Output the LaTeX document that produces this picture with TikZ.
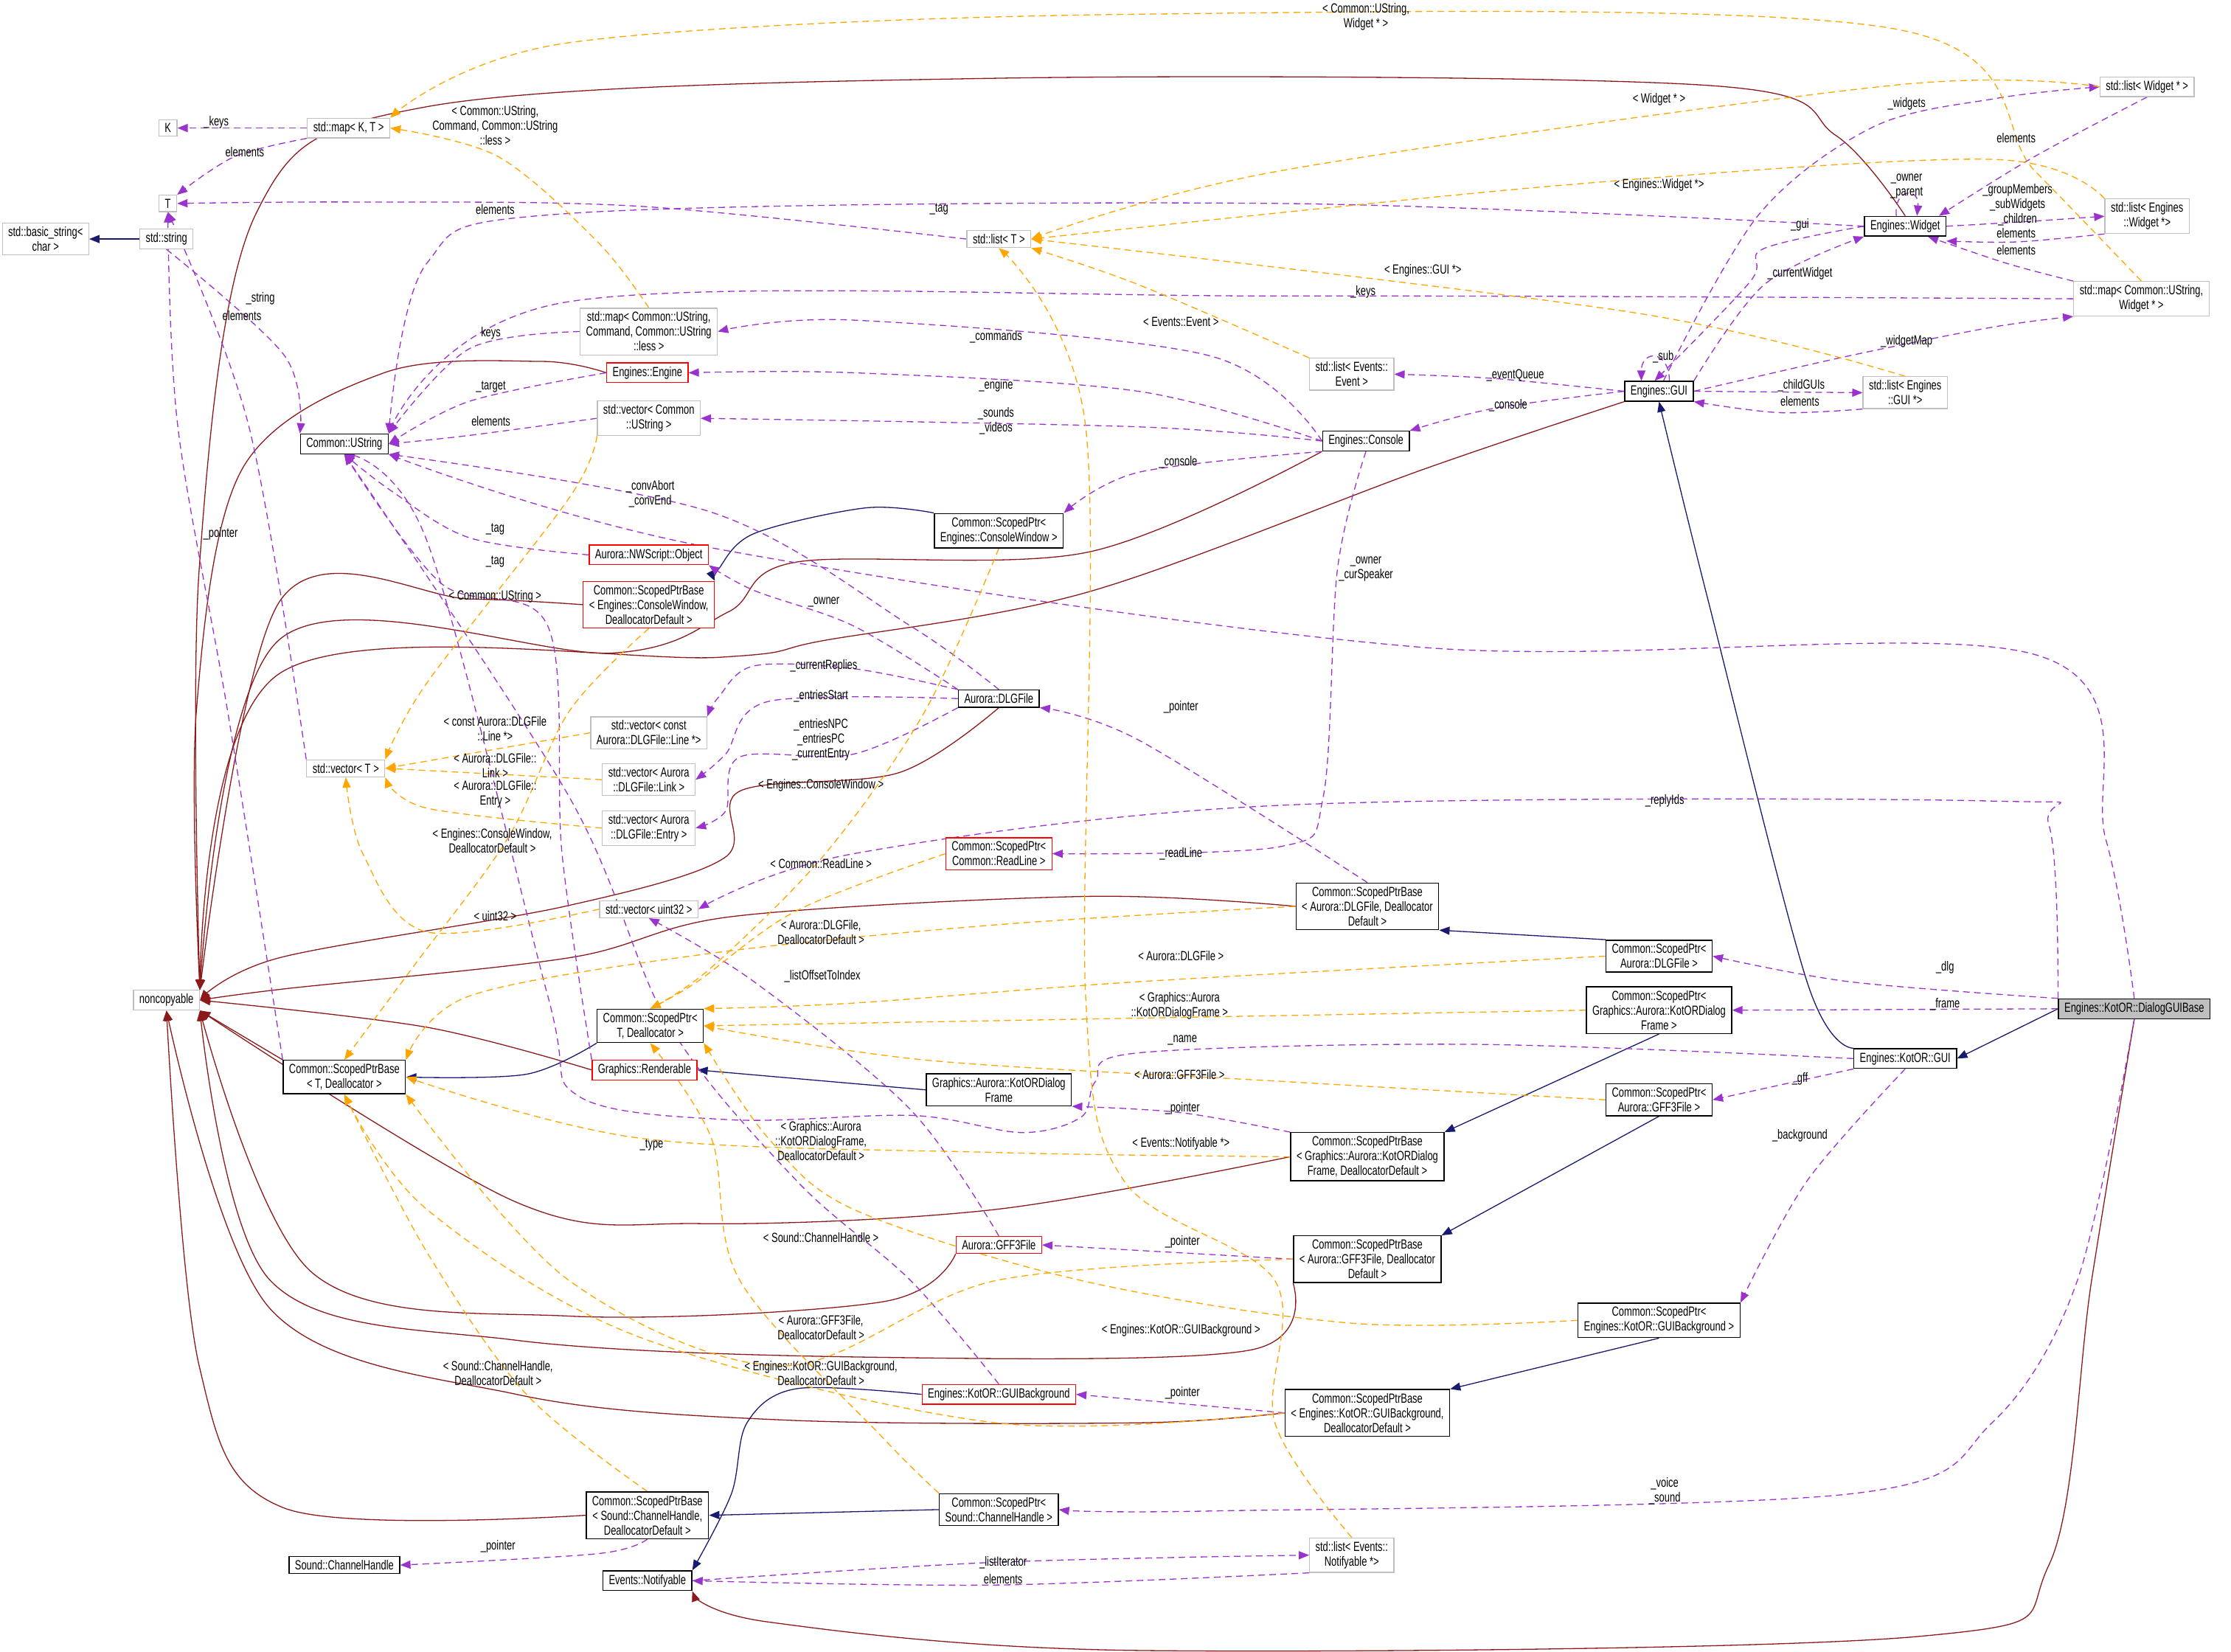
\documentclass[tikz,border=0pt]{standalone}
\usepackage{fontspec}
\setmainfont{Liberation Sans}[FakeStretch=0.72]
\usetikzlibrary{arrows.meta,backgrounds}
\definecolor{inhR}{HTML}{8B1A1A}
\definecolor{inhB}{HTML}{191970}
\definecolor{useP}{HTML}{9A32CD}
\definecolor{tmpO}{HTML}{FFA500}
\definecolor{grayb}{HTML}{BFBFBF}
\newcommand\cc[2]{\draw[#1] plot[smooth,tension=0.55] coordinates {#2};}
\tikzset{
  box/.style={draw=black,line width=1.4pt,align=center,inner xsep=8pt,inner ysep=5pt,font=\fontsize{18}{20}\selectfont,fill=white},
  gbox/.style={box,draw=grayb,line width=1.2pt},
  rbox/.style={box,draw=red,line width=1.2pt},
  lbl/.style={align=center,inner sep=0pt,font=\fontsize{18}{20}\selectfont},
  inhr/.style={draw=inhR,line width=1.3pt,-{Triangle[length=14pt,width=11pt]}},
  inhb/.style={draw=inhB,line width=1.3pt,-{Triangle[length=14pt,width=11pt]}},
  use/.style={draw=useP,line width=1.3pt,dash pattern=on 9pt off 6pt,-{Triangle[length=14pt,width=11pt]}},
  tmpl/.style={draw=tmpO,line width=1.3pt,dash pattern=on 9pt off 6pt,-{Triangle[length=14pt,width=11pt]}},
}
\begin{document}
\begin{tikzpicture}[x=1.9292pt,y=-1.9292pt]
\useasboundingbox (0,0) rectangle (1568,1161);
% nodes
\node[gbox] (K) at (118,90) {K};
\node[gbox] (mapKT) at (245,90) {std::map< K, T >};
\node[gbox] (T) at (118,143) {T};
\node[gbox] (basicstr) at (32,168) {std::basic\_string<\\char >};
\node[gbox] (stdstr) at (117,168) {std::string};
\node[box] (ustr) at (242,312) {Common::UString};
\node[gbox] (mapCmd) at (456,233) {std::map< Common::UString,\\Command, Common::UString\\::less >};
\node[rbox] (engine) at (455,262) {Engines::Engine};
\node[gbox] (vecU) at (456,294) {std::vector< Common\\::UString >};
\node[rbox] (nwobj) at (456,390) {Aurora::NWScript::Object};
\node[rbox] (spbCW) at (456,425) {Common::ScopedPtrBase\\< Engines::ConsoleWindow,\\DeallocatorDefault >};
\node[gbox] (vecLine) at (456,515) {std::vector< const\\Aurora::DLGFile::Line *>};
\node[gbox] (vecLink) at (456,548) {std::vector< Aurora\\::DLGFile::Link >};
\node[gbox] (vecEntry) at (456,582) {std::vector< Aurora\\::DLGFile::Entry >};
\node[gbox] (vecT) at (243,540) {std::vector< T >};
\node[gbox] (vecU32) at (456,639) {std::vector< uint32 >};
\node[gbox] (noncop) at (117,703) {noncopyable};
\node[box] (spTD) at (457,721) {Common::ScopedPtr<\\T, Deallocator >};
\node[box] (spbTD) at (242,757) {Common::ScopedPtrBase\\< T, Deallocator >};
\node[rbox] (rend) at (453,752) {Graphics::Renderable};
\node[box] (spCW) at (702,373) {Common::ScopedPtr<\\Engines::ConsoleWindow >};
\node[box] (dlg) at (702,491) {Aurora::DLGFile};
\node[rbox] (spRL) at (702,600) {Common::ScopedPtr<\\Common::ReadLine >};
\node[box] (kdf) at (702,766) {Graphics::Aurora::KotORDialog\\Frame};
\node[rbox] (gff) at (702,875) {Aurora::GFF3File};
\node[rbox] (guibg) at (702,980) {Engines::KotOR::GUIBackground};
\node[box] (spCH) at (702,1061) {Common::ScopedPtr<\\Sound::ChannelHandle >};
\node[box] (spbCH) at (455,1065) {Common::ScopedPtrBase\\< Sound::ChannelHandle,\\DeallocatorDefault >};
\node[box] (sch) at (242,1100) {Sound::ChannelHandle};
\node[box] (notif) at (455,1111) {Events::Notifyable};
\node[gbox] (listNotif) at (950,1093) {std::list< Events::\\Notifyable *>};
\node[gbox] (listT) at (702,168) {std::list< T >};
\node[gbox] (listEvt) at (950,263) {std::list< Events::\\Event >};
\node[box] (console) at (960,310) {Engines::Console};
\node[box] (gui) at (1166,275) {Engines::GUI};
\node[gbox] (listGUI) at (1339,276) {std::list< Engines\\::GUI *>};
\node[box] (widget) at (1339,159) {Engines::Widget};
\node[gbox] (listW) at (1509,61) {std::list< Widget * >};
\node[gbox] (listEW) at (1509,152) {std::list< Engines\\::Widget *>};
\node[gbox] (mapW) at (1505,210) {std::map< Common::UString,\\Widget * >};
\node[box] (spbDLG) at (961,637) {Common::ScopedPtrBase\\< Aurora::DLGFile, Deallocator\\Default >};
\node[box] (spDLG) at (1166,672) {Common::ScopedPtr<\\Aurora::DLGFile >};
\node[box] (spKDF) at (1166,710) {Common::ScopedPtr<\\Graphics::Aurora::KotORDialog\\Frame >};
\node[box,fill=grayb] (dgb) at (1500,709) {Engines::KotOR::DialogGUIBase};
\node[box] (kgui) at (1339,744) {Engines::KotOR::GUI};
\node[box] (spGFF) at (1166,773) {Common::ScopedPtr<\\Aurora::GFF3File >};
\node[box] (spbKDF) at (961,813) {Common::ScopedPtrBase\\< Graphics::Aurora::KotORDialog\\Frame, DeallocatorDefault >};
\node[box] (spbGFF) at (961,885) {Common::ScopedPtrBase\\< Aurora::GFF3File, Deallocator\\Default >};
\node[box] (spBG) at (1166,928) {Common::ScopedPtr<\\Engines::KotOR::GUIBackground >};
\node[box] (spbBG) at (961,993) {Common::ScopedPtrBase\\< Engines::KotOR::GUIBackground,\\DeallocatorDefault >};

\begin{scope}[on background layer]
\fill[white] (0,0) rectangle (1568,1161);
% ---- red inheritance to noncopyable
\cc{inhr}{(widget.north) (1290,95) (1200,60) (700,55) (300,75) (180,150) (140,400) (noncop.north east)}
\cc{inhr}{(engine.west) (380,254) (270,262) (170,330) (138,500) (noncop.north east)}
\cc{inhr}{(console.south west) (765,388) (560,395) (512,430) (430,459) (197,449) (noncop.north east)}
\cc{inhr}{(gui.south west) (1000,330) (765,416) (580,450) (505,462) (197,473) (noncop.north east)}
\cc{inhr}{(spbCW.west) (330,421) (197,422) (noncop.north east)}
\cc{inhr}{(dlg.south) (632,543) (520,556) (509,603) (397,637) (197,673) (noncop.east)}
\cc{inhr}{(spbDLG.west) (765,630) (516,644) (401,673) (200,695) (noncop.east)}
\cc{inhr}{(spbTD.north west) (noncop.south east)}
\cc{inhr}{(rend.west) (300,722) (noncop.east)}
\cc{inhr}{(spbKDF.west) (700,850) (492,860) (363,845) (noncop.south east)}
\cc{inhr}{(gff.south west) (620,915) (400,925) (220,895) (noncop.south east)}
\cc{inhr}{(spbGFF.south west) (878,949) (620,954) (363,942) (190,900) (noncop.south east)}
\cc{inhr}{(spbBG.west) (800,1000) (550,998) (363,980) (190,920) (noncop.south)}
\cc{inhr}{(spbCH.west) (200,1060) (140,960) (noncop.south)}
\cc{inhr}{(dgb.south) (1470,900) (1440,1100) (1350,1150) (800,1160) (540,1140) (notif.south east)}
% ---- blue inheritance
\draw[inhb] (stdstr.west) -- (basicstr.east);
\cc{inhb}{(spTD.south west) (370,755) (spbTD.east)}
\cc{inhb}{(spCW.north west) (608,357) (530,375) (505,400) (spbCW.north east)}
\draw[inhb] (kdf.west) -- (rend.east);
\draw[inhb] (spDLG.north west) -- (spbDLG.south east);
\draw[inhb] (spKDF.south) -- (spbKDF.north east);
\draw[inhb] (spGFF.south) -- (spbGFF.north east);
\draw[inhb] (spBG.south) -- (spbBG.north east);
\draw[inhb] (spCH.west) -- (spbCH.east);
\cc{inhb}{(kgui.north west) (1270,690) (1200,420) (gui.south)}
\draw[inhb] (dgb.west) -- (kgui.east);
\cc{inhb}{(guibg.west) (560,976) (525,1000) (514,1050) (notif.north east)}
% ---- purple usage
\draw[use] (mapKT.west) -- (K.east);
\cc{use}{(mapKT.south west) (165,110) (T.north east)}
\cc{use}{(listT.west) (450,145) (250,142) (T.east)}
\cc{use}{(vecT.north west) (175,300) (T.south)}
\cc{use}{(spbTD.north west) (160,500) (125,300) (T.south)}
\cc{use}{(stdstr.south) (200,250) (ustr.north west)}
\cc{use}{(mapCmd.west) (330,245) (ustr.north east)}
\cc{use}{(engine.west) (330,282) (ustr.east)}
\cc{use}{(vecU.west) (330,306) (ustr.east)}
\cc{use}{(nwobj.west) (330,378) (275,345) (ustr.south)}
\cc{use}{(rend.north west) (395,600) (385,440) (310,410) (ustr.south)}
\cc{use}{(widget.west) (900,143) (400,150) (300,185) (ustr.north east)}
\cc{use}{(mapW.west) (900,208) (400,212) (ustr.north east)}
\cc{use}{(dgb.north) (1480,590) (1430,460) (1000,455) (500,385) (ustr.south east)}
\cc{use}{(dlg.north) (640,440) (500,360) (ustr.south east)}
\cc{use}{(kgui.west) (1036,734) (800,740) (770,760) (760,785) (718,796) (642,784) (513,787) (406,770) (385,700) (300,380) (ustr.south)}
\cc{use}{(guibg.north) (640,900) (560,830) (470,720) (400,560) (ustr.south)}
\cc{use}{(gff.north) (640,780) (530,690) (vecU32.south)}
\cc{use}{(console.west) (850,250) (600,225) (mapCmd.east)}
\cc{use}{(console.west) (800,275) (600,262) (engine.east)}
\cc{use}{(console.west) (800,300) (vecU.east)}
\cc{use}{(console.south west) (800,332) (spCW.north east)}
\cc{use}{(console.south) (940,400) (930,560) (900,595) (spRL.east)}
\cc{use}{(gui.west) (1050,287) (console.north east)}
\cc{use}{(gui.west) (1050,266) (listEvt.east)}
\draw[use] ([xshift=14pt]gui.north) .. controls +(0,-22) and +(0,-22) .. ([xshift=-24pt]gui.north);
\draw[use] (gui.east) -- (listGUI.west);
\cc{use}{(listGUI.south west) (1250,290) (gui.south east)}
\cc{use}{(gui.north east) (1240,200) (widget.south west)}
\cc{use}{(gui.east) (1300,250) (1400,230) (mapW.south west)}
\cc{use}{([xshift=6pt]gui.north) (1236,151) (1317,89) (1404,69) (listW.west)}
\cc{use}{(widget.west) (1239,175) (1230,198) ([xshift=-6pt]gui.north)}
\draw[use] ([xshift=-12pt]widget.north) .. controls +(-2,-20) and +(2,-20) .. ([xshift=16pt]widget.north);
\cc{use}{(widget.east) (1420,156) (listEW.west)}
\cc{use}{(listEW.south west) (1418,170) ([yshift=-6pt]widget.south east)}
\cc{use}{(listW.south) (1430,110) ([xshift=-10pt]widget.north east)}
\cc{use}{(mapW.north west) (1410,185) ([xshift=-25pt]widget.south east)}
\cc{use}{(dgb.north west) (1440,580) (1400,563) (900,566) (600,600) (vecU32.east)}
\cc{use}{(spbDLG.north) (800,520) (dlg.south east)}
\cc{use}{(dgb.north west) (1300,690) (spDLG.east)}
\draw[use] (dgb.west) -- (spKDF.east);
\cc{use}{(kgui.south west) (1240,765) (spGFF.east)}
\cc{use}{(kgui.south) (1270,830) (spBG.north east)}
\cc{use}{(spbKDF.north west) (830,782) (kdf.south east)}
\draw[use] (spbGFF.west) -- (gff.east);
\draw[use] (spbBG.west) -- (guibg.east);
\cc{use}{(spbCH.south) (420,1092) (sch.east)}
\cc{use}{(dgb.south) (1460,900) (1400,1000) (1300,1050) (850,1062) (spCH.east)}
\cc{use}{(notif.east) (700,1098) (listNotif.west)}
\cc{use}{(listNotif.south west) (700,1114) (notif.east)}
\cc{use}{(dlg.north west) (600,440) (530,415) (nwobj.south east)}
\cc{use}{(dlg.north west) (600,470) (530,468) (505,490) (vecLine.north east)}
\cc{use}{(dlg.west) (540,493) (510,530) (vecLink.east)}
\cc{use}{(dlg.south west) (600,530) (520,532) (510,570) (vecEntry.east)}
% ---- orange templates
\cc{tmpl}{(mapCmd.north) (420,170) (350,110) (mapKT.east)}
\cc{tmpl}{(mapW.north) (1430,120) (1330,20) (800,10) (400,30) (mapKT.north east)}
\cc{tmpl}{(listW.west) (1330,60) (900,120) (listT.east)}
\cc{tmpl}{(listEW.north west) (1400,112) (1100,130) (listT.east)}
\cc{tmpl}{(listGUI.north) (1150,220) (listT.east)}
\cc{tmpl}{(listEvt.north west) (800,200) (listT.south east)}
\cc{tmpl}{(listNotif.north) (896,1000) (896,900) (790,830) (763,700) (763,300) (listT.south)}
\cc{tmpl}{(vecU.south west) (400,350) (300,480) (vecT.north east)}
\cc{tmpl}{(vecLine.west) (vecT.east)}
\cc{tmpl}{(vecLink.west) (vecT.east)}
\cc{tmpl}{(vecEntry.west) (300,568) (vecT.south east)}
\cc{tmpl}{(vecU32.west) (300,655) (255,600) (vecT.south)}
\cc{tmpl}{(spbCW.south) (400,500) (357,589) (290,680) (spbTD.north)}
\cc{tmpl}{(spbDLG.west) (700,650) (500,670) (330,700) (spbTD.north east)}
\cc{tmpl}{(spbKDF.west) (700,810) (450,800) (spbTD.east)}
\cc{tmpl}{(spbGFF.west) (700,900) (550,960) (400,900) (spbTD.south east)}
\cc{tmpl}{(spbBG.west) (700,1000) (450,940) (300,850) (spbTD.south)}
\cc{tmpl}{(spbCH.north) (370,980) (300,880) (spbTD.south)}
\cc{tmpl}{(spCW.south) (650,500) (580,600) (500,680) (spTD.north)}
\cc{tmpl}{(spRL.west) (560,640) (490,690) (spTD.north)}
\cc{tmpl}{(spDLG.west) (800,690) (600,705) (spTD.north east)}
\draw[tmpl] (spKDF.west) -- (spTD.east);
\cc{tmpl}{(spGFF.west) (900,760) (650,745) (spTD.east)}
\cc{tmpl}{(spBG.west) (950,930) (760,900) (600,850) (540,800) (spTD.south east)}
\cc{tmpl}{(spCH.north west) (620,1010) (520,900) (500,800) (spTD.south)}
\end{scope}

% labels
\node[lbl] (l1) at (152,86) {\_keys};
\node[lbl] (l2) at (172,107) {elements};
\node[lbl] (l3) at (348,147) {elements};
\node[lbl] (l4) at (170,222) {elements};
\node[lbl] (l5) at (183,210) {\_string};
\node[lbl] (l6) at (155,375) {\_pointer};
\node[lbl] (l7) at (345,234) {keys};
\node[lbl] (l8) at (345,272) {\_target};
\node[lbl] (l9) at (345,296) {elements};
\node[lbl] (l10) at (348,88) {< Common::UString,\\Command, Common::UString\\::less >};
\node[lbl] (l11) at (960,12) {< Common::UString,\\Widget * >};
\node[lbl] (l12) at (660,147) {\_tag};
\node[lbl] (l13) at (700,237) {\_commands};
\node[lbl] (l14) at (700,271) {\_engine};
\node[lbl] (l15) at (700,296) {\_sounds\\\_videos};
\node[lbl] (l16) at (830,226) {< Events::Event >};
\node[lbl] (l17) at (1000,190) {< Engines::GUI *>};
\node[lbl] (l18) at (958,205) {\_keys};
\node[lbl] (l19) at (1065,264) {\_eventQueue};
\node[lbl] (l20) at (1060,285) {\_console};
\node[lbl] (l21) at (828,325) {\_console};
\node[lbl] (l22) at (960,400) {\_owner\\\_curSpeaker};
\node[lbl] (l23) at (830,497) {\_pointer};
\node[lbl] (l24) at (830,600) {\_readLine};
\node[lbl] (l25) at (1170,563) {\_replyIds};
\node[lbl] (l26) at (1367,680) {\_dlg};
\node[lbl] (l27) at (1367,706) {\_frame};
\node[lbl] (l28) at (830,672) {< Aurora::DLGFile >};
\node[lbl] (l29) at (1265,758) {\_gff};
\node[lbl] (l30) at (1265,798) {\_background};
\node[lbl] (l31) at (350,965) {< Sound::ChannelHandle,\\DeallocatorDefault >};
\node[lbl] (l32) at (350,1087) {\_pointer};
\node[lbl] (l33) at (1170,1048) {\_voice\\\_sound};
\node[lbl] (l34) at (705,1098) {\_listIterator};
\node[lbl] (l35) at (705,1110) {elements};
\node[lbl] (m1) at (1166,70) {< Widget * >};
\node[lbl] (m2) at (1340,73) {\_widgets};
\node[lbl] (m3) at (1417,97) {elements};
\node[lbl] (m4) at (1166,130) {< Engines::Widget *>};
\node[lbl] (m5) at (1340,131) {\_owner\\\_parent};
\node[lbl] (m6) at (1418,144) {\_groupMembers\\\_subWidgets\\\_children};
\node[lbl] (m7) at (1417,164) {elements};
\node[lbl] (m8) at (1417,176) {elements};
\node[lbl] (m9) at (1265,158) {\_gui};
\node[lbl] (m10) at (1265,192) {\_currentWidget};
\node[lbl] (m11) at (1340,240) {\_widgetMap};
\node[lbl] (m12) at (1169,251) {\_sub};
\node[lbl] (m13) at (1266,271) {\_childGUIs};
\node[lbl] (m14) at (1265,282) {elements};
\node[lbl] (n1) at (457,347) {\_convAbort\\\_convEnd};
\node[lbl] (n2) at (348,372) {\_tag};
\node[lbl] (n3) at (348,395) {\_tag};
\node[lbl] (n4) at (348,419) {< Common::UString >};
\node[lbl] (n5) at (579,423) {\_owner};
\node[lbl] (n6) at (579,468) {\_currentReplies};
\node[lbl] (n7) at (577,489) {\_entriesStart};
\node[lbl] (n8) at (577,520) {\_entriesNPC\\\_entriesPC\\\_currentEntry};
\node[lbl] (n9) at (348,512) {< const Aurora::DLGFile\\::Line *>};
\node[lbl] (n10) at (348,538) {< Aurora::DLGFile::\\Link >};
\node[lbl] (n11) at (348,558) {< Aurora::DLGFile::\\Entry >};
\node[lbl] (n12) at (577,552) {< Engines::ConsoleWindow >};
\node[lbl] (n13) at (346,591) {< Engines::ConsoleWindow,\\DeallocatorDefault >};
\node[lbl] (n14) at (577,607) {< Common::ReadLine >};
\node[lbl] (n15) at (348,644) {< uint32 >};
\node[lbl] (n16) at (577,655) {< Aurora::DLGFile,\\DeallocatorDefault >};
\node[lbl] (o1) at (578,686) {\_listOffsetToIndex};
\node[lbl] (o2) at (829,707) {< Graphics::Aurora\\::KotORDialogFrame >};
\node[lbl] (o3) at (831,731) {\_name};
\node[lbl] (o4) at (829,755) {< Aurora::GFF3File >};
\node[lbl] (o5) at (831,779) {\_pointer};
\node[lbl] (o6) at (577,802) {< Graphics::Aurora\\::KotORDialogFrame,\\DeallocatorDefault >};
\node[lbl] (o7) at (458,805) {\_type};
\node[lbl] (o8) at (830,804) {< Events::Notifyable *>};
\node[lbl] (o9) at (577,870) {< Sound::ChannelHandle >};
\node[lbl] (o10) at (831,873) {\_pointer};
\node[lbl] (o11) at (577,933) {< Aurora::GFF3File,\\DeallocatorDefault >};
\node[lbl] (o12) at (830,935) {< Engines::KotOR::GUIBackground >};
\node[lbl] (o13) at (577,965) {< Engines::KotOR::GUIBackground,\\DeallocatorDefault >};
\node[lbl] (o14) at (831,979) {\_pointer};
\end{tikzpicture}
\end{document}
